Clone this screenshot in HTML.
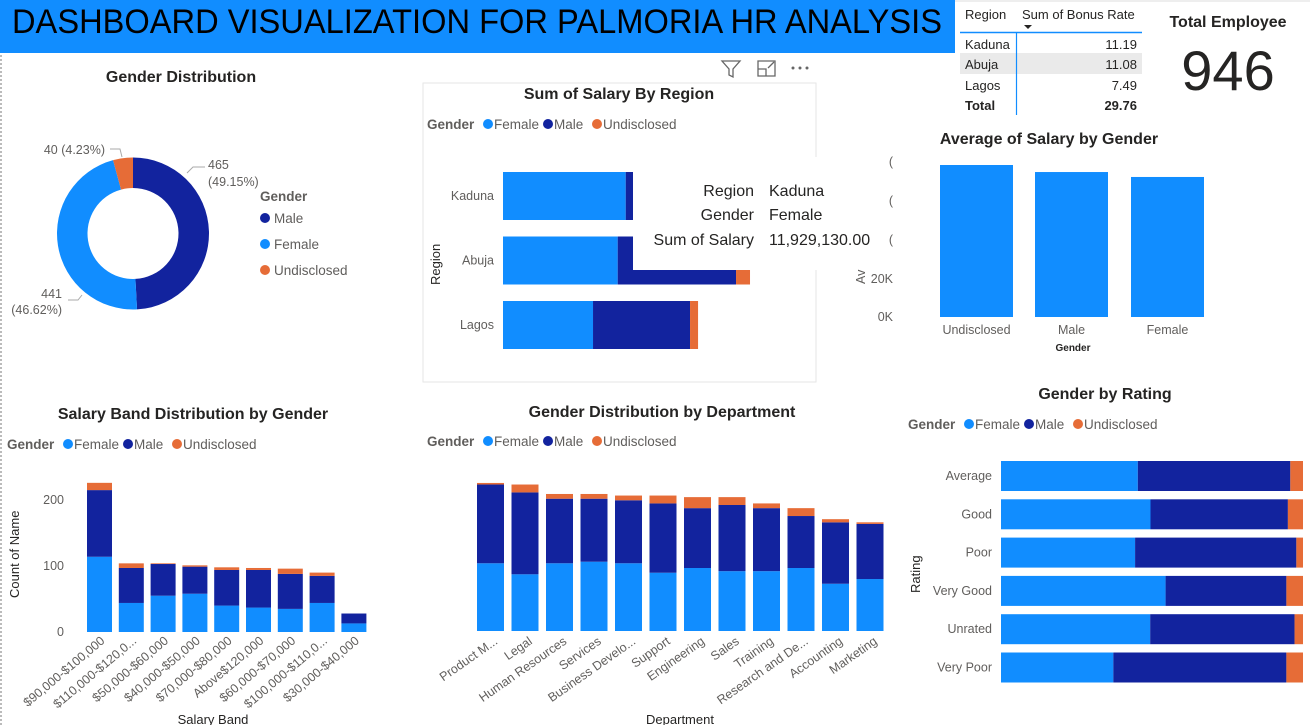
<!DOCTYPE html>
<html><head><meta charset="utf-8">
<style>
html,body{margin:0;padding:0;background:#fff;width:1310px;height:725px;overflow:hidden}
svg{display:block;font-family:"Liberation Sans",sans-serif}
.t{font-weight:bold;font-size:16px;fill:#252423}
.l{font-size:12.5px;fill:#605E5C}
.lg{font-size:13.5px;fill:#605E5C}
.lgb{font-size:13.5px;fill:#605E5C;font-weight:bold}
</style></head>
<body>
<svg id="s" width="1310" height="725" viewBox="0 0 1310 725">
<line x1="1" y1="55" x2="1" y2="725" stroke="#777" stroke-dasharray="2,2"/>
<rect x="0" y="0" width="955" height="53" fill="#118DFF"/>
<text x="12" y="33" font-size="34" fill="#000" textLength="930" lengthAdjust="spacingAndGlyphs">DASHBOARD VISUALIZATION FOR PALMORIA HR ANALYSIS</text>
<line x1="955" y1="1" x2="1310" y2="1" stroke="#ddd"/>

<!-- Bonus table -->
<g>
<rect x="960" y="53" width="182" height="21" fill="#EAEAEA"/>
<text x="965" y="19" font-size="13" fill="#252423">Region</text>
<text x="1022" y="19" font-size="13" fill="#252423">Sum of Bonus Rate</text>
<path d="M1024 25 L1032 25 L1028 29 Z" fill="#252423"/>
<line x1="960" y1="32.5" x2="1142" y2="32.5" stroke="#118DFF" stroke-width="1.5"/>
<line x1="1016.5" y1="32" x2="1016.5" y2="115" stroke="#118DFF" stroke-width="1.2"/>
<text x="965" y="49" font-size="13" fill="#252423">Kaduna</text><text x="1137" y="49" font-size="13" fill="#252423" text-anchor="end">11.19</text>
<text x="965" y="69" font-size="13" fill="#252423">Abuja</text><text x="1137" y="69" font-size="13" fill="#252423" text-anchor="end">11.08</text>
<text x="965" y="90" font-size="13" fill="#252423">Lagos</text><text x="1137" y="90" font-size="13" fill="#252423" text-anchor="end">7.49</text>
<text x="965" y="110" font-size="13" font-weight="bold" fill="#252423">Total</text><text x="1137" y="110" font-size="13" font-weight="bold" fill="#252423" text-anchor="end">29.76</text>
</g>
<text x="1228" y="27" text-anchor="middle" font-size="16" font-weight="bold" fill="#252423">Total Employee</text>
<text x="1228" y="90" text-anchor="middle" font-size="56" fill="#252423">946</text>

<!-- titles -->
<text x="181" y="82" text-anchor="middle" class="t">Gender Distribution</text>
<rect x="423" y="83" width="393" height="299" fill="none" stroke="#E6E6E6"/>
<text x="619" y="99" text-anchor="middle" class="t">Sum of Salary By Region</text>
<text x="1049" y="144" text-anchor="middle" class="t">Average of Salary by Gender</text>
<text x="193" y="419" text-anchor="middle" class="t">Salary Band Distribution by Gender</text>
<text x="662" y="417" text-anchor="middle" class="t">Gender Distribution by Department</text>
<text x="1105" y="399" text-anchor="middle" class="t">Gender by Rating</text>

<!-- toolbar icons -->
<path d="M722 61 L740 61 L733 69 L733 77 L729 75 L729 69 Z" fill="none" stroke="#666" stroke-width="1.3"/>
<g fill="none" stroke="#666" stroke-width="1.3"><path d="M758 61 L775 61 L775 76 L758 76 Z M758 69 L766 69 L766 76"/><path d="M768 68 L774 62"/></g>
<g fill="#666"><circle cx="793" cy="68" r="1.5"/><circle cx="800" cy="68" r="1.5"/><circle cx="807" cy="68" r="1.5"/></g>

<g id="dyn"></g>

<!-- tooltip -->
<rect x="633" y="157" width="258" height="113" fill="#fff"/>
<g font-size="16" fill="#252423">
<text x="754" y="196" text-anchor="end">Region</text><text x="769" y="196">Kaduna</text>
<text x="754" y="220" text-anchor="end">Gender</text><text x="769" y="220">Female</text>
<text x="754" y="245" text-anchor="end">Sum of Salary</text><text x="769" y="245">11,929,130.00</text>
</g>
<g class="l">
<text x="893" y="283" text-anchor="end" class="l">20K</text>
<text x="893" y="321" text-anchor="end" class="l">0K</text>
<text x="893" y="166" text-anchor="end" class="l">(</text>
<text x="893" y="205" text-anchor="end" class="l">(</text>
<text x="893" y="244" text-anchor="end" class="l">(</text>
<text x="0" y="0" class="l" transform="translate(865,284) rotate(-90)" font-size="10">Av</text>
</g>
</svg>
<script>
const NS="http://www.w3.org/2000/svg";
const C={F:"#118DFF",M:"#12239E",U:"#E66C37"};
// ---- data ----
const genderLabels=["Male","Female","Undisclosed"];
const genderCounts=[465,441,40];
const regions=["Kaduna","Abuja","Lagos"];
const regionFemale=[11929130,11150000,8750000];
const regionMale=[12400000,11500000,9430000];
const regionUnd=[1000000,1360000,780000];
const avgGenders=["Undisclosed","Male","Female"];
const avgSalary=[80000,76300,73700];
const bands=["$90,000-$100,000","$110,000-$120,0...","$50,000-$60,000","$40,000-$50,000","$70,000-$80,000","Above$120,000","$60,000-$70,000","$100,000-$110,0...","$30,000-$40,000"];
const bandFemale=[114,44,55,58,40,37,35,44,13];
const bandMale=[101,53,48,41,54,57,53,41,15];
const bandUnd=[11,7,1,2,4,3,8,5,0];
const bandTicks=[0,100,200];
const depts=["Product M...","Legal","Human Resources","Services","Business Develo...","Support","Engineering","Sales","Training","Research and De...","Accounting","Marketing"];
const deptFemale=[43,36,43,44,43,37,40,38,38,40,30,33];
const deptMale=[50,52,41,40,40,44,38,42,40,33,39,35];
const deptUnd=[1,5,3,3,3,5,7,5,3,5,2,1];
const ratings=["Average","Good","Poor","Very Good","Unrated","Very Poor"];
const ratingFemale=[45.3,49.5,44.4,54.5,49.4,37.2];
const ratingMale=[50.5,45.5,53.4,40.0,47.8,57.3];
const ratingUnd=[4.2,5.0,2.2,5.5,2.8,5.5];

const dyn=document.getElementById('dyn');
function el(tag,attrs,parent){const e=document.createElementNS(NS,tag);for(const k in attrs)e.setAttribute(k,attrs[k]);(parent||dyn).appendChild(e);return e;}
function txt(x,y,s,cls,extra){const e=el('text',Object.assign({x:x,y:y,class:cls||'l'},extra||{}));e.textContent=s;return e;}
function legend(x,y){
  const g=el('g',{});
  
  
  txt(x,y+5,"Gender","lgb",{}).remove();
  const t=el('text',{x:x,y:y+5,class:'lgb'},g);t.textContent="Gender";
  const items=[["Female",C.F,x+56],["Male",C.M,x+116],["Undisclosed",C.U,x+165]];
  items.forEach(it=>{el('circle',{cx:it[2]+5,cy:y,r:5,fill:it[1]},g);const tt=el('text',{x:it[2]+11,y:y+5,class:'lg'},g);tt.textContent=it[0];});
}

// ---- donut ----
(function(){
  const cx=133,cy=233.5,R=76,r=45.5;
  const tot=genderCounts.reduce((a,b)=>a+b,0);
  const cols=[C.M,C.F,C.U];
  let a0=0;
  genderCounts.forEach((v,i)=>{
    const a1=a0+v/tot*2*Math.PI;
    const p=(a,rad)=>[cx+rad*Math.sin(a),cy-rad*Math.cos(a)];
    const [x1,y1]=p(a0,R),[x2,y2]=p(a1,R),[x3,y3]=p(a1,r),[x4,y4]=p(a0,r);
    const lg=(a1-a0)>Math.PI?1:0;
    const s=el('path',{d:`M${x1} ${y1} A${R} ${R} 0 ${lg} 1 ${x2} ${y2} L${x3} ${y3} A${r} ${r} 0 ${lg} 0 ${x4} ${y4} Z`,fill:cols[i]});
    
    
    a0=a1;
  });
  const pct=v=>(v/tot*100).toFixed(2)+"%";
  el('polyline',{points:"187,173 193,167 205,167",fill:"none",stroke:"#aaa"});
  txt(208,169,String(genderCounts[0]),'l');txt(208,186,"("+pct(genderCounts[0])+")",'l');
  el('polyline',{points:"82,295 78,300 68,300",fill:"none",stroke:"#aaa"});
  txt(62,298,String(genderCounts[1]),'l',{"text-anchor":"end"});txt(62,314,"("+pct(genderCounts[1])+")",'l',{"text-anchor":"end"});
  el('polyline',{points:"122,157 120,149 110,149",fill:"none",stroke:"#aaa"});
  txt(105,154,genderCounts[2]+" ("+pct(genderCounts[2])+")",'l',{"text-anchor":"end"});
  const lg=el('g',{});
  
  
  const h=el('text',{x:260,y:201,class:'lgb'},lg);h.textContent="Gender";
  [[C.M,"Male",218],[C.F,"Female",244],[C.U,"Undisclosed",270]].forEach(it=>{
    el('circle',{cx:265,cy:it[2],r:5,fill:it[0]},lg);
    const t=el('text',{x:274,y:it[2]+5,class:'lg'},lg);t.textContent=it[1];
  });
})();

// ---- region bars ----
(function(){
  legend(427,124);
  const x0=503,sx=v=>v/97200;
  const yc=[196,260.5,325],bh=48;
  regions.forEach((rg,i)=>{
    let x=x0;
    [[regionFemale[i],C.F,'female'],[regionMale[i],C.M,'male'],[regionUnd[i],C.U,'undisclosed']].forEach(s=>{
      const w=sx(s[0]);
      const b=el('rect',{x:x,y:yc[i]-bh/2,width:w,height:bh,fill:s[1]});
      
      
      x+=w;
    });
    txt(494,yc[i]+4,rg,'l',{"text-anchor":"end"});
  });
  txt(0,0,"Region",'l',{transform:"translate(440,285) rotate(-90)",style:"font-size:13px;fill:#252423"});
})();

// ---- avg salary ----
(function(){
  const base=317,sy=v=>v*38/20000;
  const xs=[940,1035,1131],w=73;
  avgGenders.forEach((g,i)=>{
    const h=sy(avgSalary[i]);
    const b=el('rect',{x:xs[i],y:base-h,width:w,height:h,fill:C.F});
    
    
    txt(xs[i]+w/2,334,g,'l',{"text-anchor":"middle"});
  });
  txt(1073,351,"Gender",'l',{"text-anchor":"middle",style:"font-size:10px;font-weight:bold;fill:#252423"});
})();

// ---- salary band ----
(function(){
  legend(7,444);
  const base=632,sy=v=>v*0.66;
  bandTicks.forEach(t=>txt(64,base-sy(t)+4,String(t),'l',{"text-anchor":"end"}));
  const x0=87,step=31.8,w=25;
  bands.forEach((b,i)=>{
    let y=base;const x=x0+i*step;
    [[bandFemale[i],C.F,'female'],[bandMale[i],C.M,'male'],[bandUnd[i],C.U,'undisclosed']].forEach(s=>{
      const h=sy(s[0]);y-=h;
      const r=el('rect',{x:x,y:y,width:w,height:h,fill:s[1]});
      
      
    });
    txt(0,0,b,'l',{"text-anchor":"end",transform:`translate(${x+w/2+6},${base+10}) rotate(-40)`});
  });
  txt(0,0,"Count of Name",'l',{transform:"translate(19,598) rotate(-90)",style:"font-size:13px;fill:#252423"});
  txt(213,724,"Salary Band",'l',{"text-anchor":"middle",style:"font-size:13px;fill:#252423"});
})();

// ---- department ----
(function(){
  legend(427,441);
  const base=631,sy=v=>v*1.575;
  const x0=477,step=34.5,w=27;
  depts.forEach((d,i)=>{
    let y=base;const x=x0+i*step;
    [[deptFemale[i],C.F,'female'],[deptMale[i],C.M,'male'],[deptUnd[i],C.U,'undisclosed']].forEach(s=>{
      const h=sy(s[0]);y-=h;
      const r=el('rect',{x:x,y:y,width:w,height:h,fill:s[1]});
      
      
    });
    txt(0,0,d,'l',{"text-anchor":"end",transform:`translate(${x+w/2+8},${base+12}) rotate(-35)`});
  });
  txt(680,724,"Department",'l',{"text-anchor":"middle",style:"font-size:13px;fill:#252423"});
})();

// ---- rating ----
(function(){
  legend(908,424);
  const x0=1001,W=302,sx=v=>v/100*W;
  const y0=476,step=38.3,bh=30;
  ratings.forEach((r,i)=>{
    const yc=y0+i*step;let x=x0;
    [[ratingFemale[i],C.F,'female'],[ratingMale[i],C.M,'male'],[ratingUnd[i],C.U,'undisclosed']].forEach(s=>{
      const w=sx(s[0]);
      const b=el('rect',{x:x,y:yc-bh/2,width:w,height:bh,fill:s[1]});
      
      
      x+=w;
    });
    txt(992,yc+4,r,'l',{"text-anchor":"end"});
  });
  txt(0,0,"Rating",'l',{transform:"translate(920,593) rotate(-90)",style:"font-size:13px;fill:#252423"});
})();
</script>
</body></html>
